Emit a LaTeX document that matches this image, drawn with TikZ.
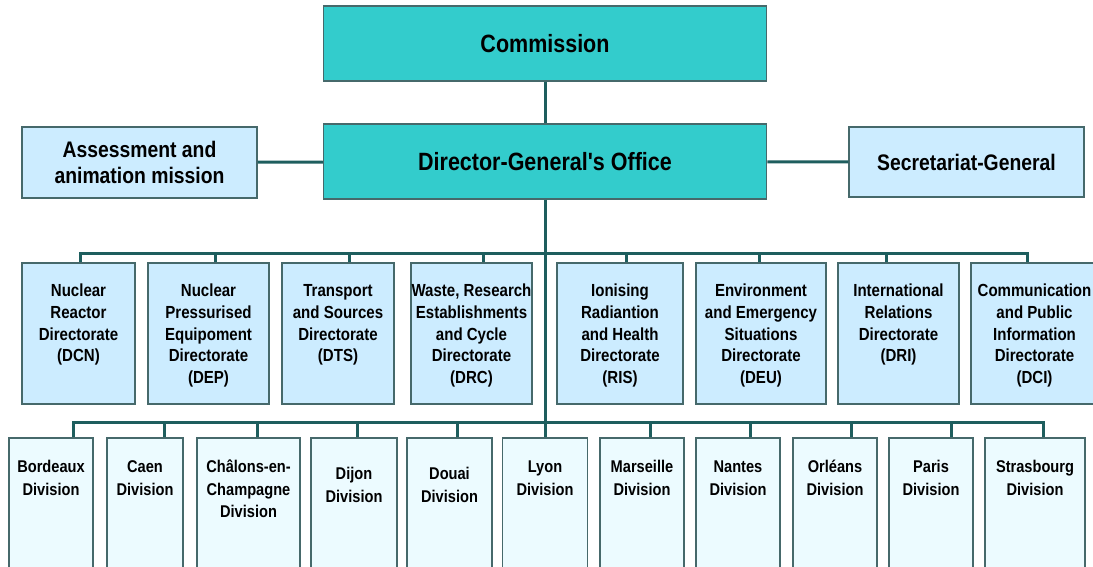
\documentclass[tikz,border=0pt]{standalone}
\usepackage{fontspec}
\newfontfamily\chartfont{Liberation Sans}[FakeStretch=0.86]
\definecolor{comteal}{HTML}{33CCCC}
\definecolor{dirblue}{HTML}{CCECFF}
\definecolor{divblue}{HTML}{ECFBFF}
\definecolor{edgeline}{HTML}{46696B}
\definecolor{wirecol}{HTML}{1E5E5E}
\begin{document}
\begin{tikzpicture}[x=1pt,y=-1pt,
    topbox/.style={draw=edgeline,fill=comteal,line width=1.5pt,minimum width=443pt,minimum height=75pt,
      font=\chartfont\bfseries\fontsize{25}{30}\selectfont},
    sidebox/.style={draw=edgeline,fill=dirblue,line width=1.5pt,minimum width=235pt,minimum height=71pt,align=center,
      font=\chartfont\bfseries\fontsize{22.5}{26}\selectfont},
    dirbox/.style={draw=edgeline,fill=dirblue,line width=1.5pt,inner ysep=0pt,inner xsep=-5pt,text width=#1+10pt,align=flush center,
      text height=34pt,text depth=107pt,anchor=north,font=\chartfont\bfseries\fontsize{17.5}{21.7}\selectfont},
    divbox/.style={draw=edgeline,fill=divblue,line width=1.5pt,inner ysep=0pt,inner xsep=-5pt,text width=#1+10pt,align=flush center,
      text height=35pt,text depth=160pt,anchor=north,font=\chartfont\bfseries\fontsize{17}{22.5}\selectfont},
    wire/.style={draw=wirecol,line width=3pt}]
\useasboundingbox (0,0) rectangle (1093,567);
\clip (0,0) rectangle (1093,567);

\node[topbox] (com) at (545,43.5) {Commission};
\node[topbox] (dg) at (545,161.5) {Director-General's Office};
\node[sidebox] (assess) at (139.5,162.5) {Assessment and\\animation mission};
\node[sidebox,minimum height=70pt] (sec) at (966.5,162) {Secretariat-General};

\node[dirbox=113pt] (dcn) at (78.5,262) {Nuclear\\Reactor\\Directorate\\(DCN)};
\node[dirbox=121pt] (dep) at (208.5,262) {Nuclear\\Pressurised\\Equipoment\\Directorate\\(DEP)};
\node[dirbox=112pt] (dts) at (338,262) {Transport\\and Sources\\Directorate\\(DTS)};
\node[dirbox=121pt] (drc) at (471.5,262) {Waste, Research\\Establishments\\and Cycle\\Directorate\\(DRC)};
\node[dirbox=126pt] (ris) at (620,262) {Ionising\\Radiantion\\and Health\\Directorate\\(RIS)};
\node[dirbox=130pt] (deu) at (761,262) {Environment\\and Emergency\\Situations\\Directorate\\(DEU)};
\node[dirbox=121pt] (dri) at (898.5,262) {International\\Relations\\Directorate\\(DRI)};
\node[dirbox=127pt] (dci) at (1034.5,262) {Communication\\and Public\\Information\\Directorate\\(DCI)};

\node[divbox=84pt] (bor) at (51,437) {Bordeaux\\Division};
\node[divbox=76pt] (caen) at (145,437) {Caen\\Division};
\node[divbox=103pt] (chal) at (248.5,437) {Châlons-en-\\Champagne\\Division};
\node[divbox=86pt,text height=42pt] (dijon) at (354,437) {Dijon\\Division};
\node[divbox=85pt,text height=42pt] (douai) at (449.5,437) {Douai\\Division};
\node[divbox=85pt] (lyon) at (545,437) {Lyon\\Division};
\node[divbox=84pt] (mars) at (642,437) {Marseille\\Division};
\node[divbox=84pt] (nantes) at (738,437) {Nantes\\Division};
\node[divbox=84pt] (orl) at (835,437) {Orléans\\Division};
\node[divbox=84pt] (paris) at (931,437) {Paris\\Division};
\node[divbox=100pt] (stras) at (1035,437) {Strasbourg\\Division};

\coordinate (upbus) at (545,253);
\coordinate (lowbus) at (545,422);
\draw[wire] (com) -- (dg);
\draw[wire] (assess) -- (dg);
\draw[wire] (dg) -- (sec);
\draw[wire] (dg) -- (lyon);
\draw[wire] ([xshift=1.5pt]dcn.north) |- (upbus) -| ([xshift=-7.5pt]dci.north);
\foreach \n/\dx in {dep/6.5,dts/11,drc/11.5,ris/6,deu/-2,dri/-12.5}
  \draw[wire] ([xshift=\dx pt]\n.north) -- ([xshift=\dx pt]\n.north |- upbus);
\draw[wire] ([xshift=22pt]bor.north) |- (lowbus) -| ([xshift=8pt]stras.north);
\foreach \n/\dx in {caen/19,chal/8.5,dijon/3,douai/7.5,mars/8,nantes/12,orl/16,paris/20}
  \draw[wire] ([xshift=\dx pt]\n.north) -- ([xshift=\dx pt]\n.north |- lowbus);
\end{tikzpicture}
\end{document}
